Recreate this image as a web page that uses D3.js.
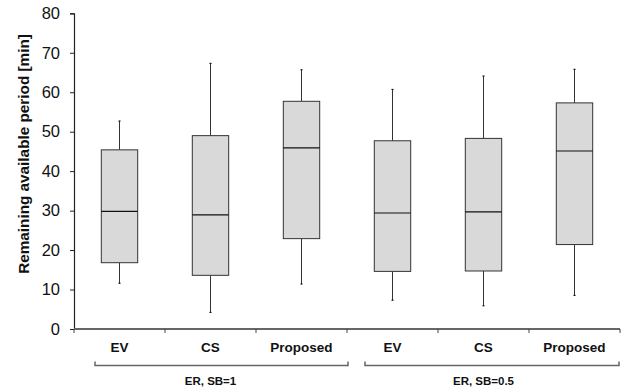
<!DOCTYPE html>
<html>
<head>
<meta charset="utf-8">
<script src="https://cdn.jsdelivr.net/npm/d3@7"></script>
<style>
  body { margin: 0; background: #fff; }
  svg { display: block; font-family: "Liberation Sans", Arial, sans-serif; }
</style>
</head>
<body>
<svg id="chart" width="628" height="390"></svg>
<script>
// values
const categories = ['EV', 'CS', 'Proposed', 'EV', 'CS', 'Proposed'];
const groups = ['ER, SB=1', 'ER, SB=0.5'];
const whiskerLow = [11.6, 4.2, 11.4, 7.3, 5.9, 8.5];
const q1 = [16.8, 13.6, 22.9, 14.6, 14.7, 21.4];
const median = [29.8, 28.9, 45.9, 29.4, 29.7, 45.1];
const q3 = [45.4, 49.0, 57.7, 47.7, 48.3, 57.3];
const whiskerHigh = [52.7, 67.3, 65.7, 60.7, 64.1, 65.8];
const yTicks = [0, 10, 20, 30, 40, 50, 60, 70, 80];
const yTitle = 'Remaining available period [min]';

const svg = d3.select('#chart');
const m = { left: 74, right: 620, top: 13.3, bottom: 329 };

const ids = categories.map((c, i) => i);
const x = d3.scaleBand().domain(ids).range([m.left, m.right]).padding(0);
const y = d3.scaleLinear().domain([0, 80]).range([m.bottom, m.top]);
const step = x.step();
const boxW = step * 0.4;

// y axis
const yAxis = svg.append('g')
    .attr('transform', `translate(${m.left},0)`)
    .call(d3.axisLeft(y).tickValues(yTicks).tickSize(4).tickPadding(10));
yAxis.select('.domain').attr('stroke', '#222').attr('stroke-width', 1.2);
yAxis.selectAll('.tick line').attr('stroke', '#222');
yAxis.selectAll('.tick text')
    .attr('font-family', '"Liberation Sans", Arial, sans-serif')
    .attr('font-size', 16.5)
    .attr('fill', '#111');

svg.append('text')
    .attr('transform', 'translate(29,154) rotate(-90)')
    .attr('text-anchor', 'middle')
    .attr('font-size', 15.3)
    .attr('font-weight', 'bold')
    .attr('fill', '#111')
    .text(yTitle);

// x axis: line, ticks at category boundaries, labels centred
const xg = svg.append('g');
xg.append('line')
    .attr('x1', m.left).attr('x2', m.right)
    .attr('y1', m.bottom).attr('y2', m.bottom)
    .attr('stroke', '#666').attr('stroke-width', 2);
xg.selectAll('line.tk')
    .data(ids.concat([ids.length]))
    .join('line')
    .attr('class', 'tk')
    .attr('x1', d => m.left + d * step).attr('x2', d => m.left + d * step)
    .attr('y1', m.bottom).attr('y2', m.bottom + 4)
    .attr('stroke', '#444').attr('stroke-width', 1);
xg.selectAll('text.cat')
    .data(ids)
    .join('text')
    .attr('class', 'cat')
    .attr('x', d => x(d) + step / 2)
    .attr('y', 351.5)
    .attr('text-anchor', 'middle')
    .attr('font-size', 13.5)
    .attr('font-weight', 'bold')
    .attr('fill', '#111')
    .text(d => categories[d]);

// group brackets
const perGroup = categories.length / groups.length;
const brackets = [
    { x0: x(0) + 21, x1: x(perGroup) + 1 },
    { x0: x(perGroup) + 18, x1: m.right - 1 }
];
const by = 365.5;
brackets.forEach(b => {
    svg.append('path')
        .attr('d', `M${b.x0},${by - 4}V${by}H${b.x1}V${by - 4}`)
        .attr('fill', 'none')
        .attr('stroke', '#666')
        .attr('stroke-width', 1.5);
});
svg.selectAll('text.grp')
    .data(groups)
    .join('text')
    .attr('class', 'grp')
    .attr('x', (d, i) => x(i * perGroup) + step * perGroup / 2)
    .attr('y', 385)
    .attr('text-anchor', 'middle')
    .attr('font-size', 11.5)
    .attr('font-weight', 'bold')
    .attr('fill', '#111')
    .text(d => d);

// boxes
const boxes = svg.append('g').selectAll('g')
    .data(ids)
    .join('g')
    .attr('transform', d => `translate(${x(d) + step / 2},0)`);

boxes.append('line')
    .attr('x1', 0).attr('x2', 0)
    .attr('y1', d => y(whiskerHigh[d])).attr('y2', d => y(q3[d]))
    .attr('stroke', '#333').attr('stroke-width', 1);
boxes.append('line')
    .attr('x1', 0).attr('x2', 0)
    .attr('y1', d => y(q1[d])).attr('y2', d => y(whiskerLow[d]))
    .attr('stroke', '#333').attr('stroke-width', 1);
// tiny caps
boxes.append('line')
    .attr('x1', -1).attr('x2', 1)
    .attr('y1', d => y(whiskerHigh[d])).attr('y2', d => y(whiskerHigh[d]))
    .attr('stroke', '#111').attr('stroke-width', 1.2);
boxes.append('line')
    .attr('x1', -1).attr('x2', 1)
    .attr('y1', d => y(whiskerLow[d])).attr('y2', d => y(whiskerLow[d]))
    .attr('stroke', '#111').attr('stroke-width', 1.2);

boxes.append('rect')
    .attr('x', -boxW / 2)
    .attr('width', boxW)
    .attr('y', d => y(q3[d]))
    .attr('height', d => y(q1[d]) - y(q3[d]))
    .attr('fill', '#d9d9d9')
    .attr('stroke', '#333')
    .attr('stroke-width', 1);
boxes.append('line')
    .attr('x1', -boxW / 2).attr('x2', boxW / 2)
    .attr('y1', d => y(median[d])).attr('y2', d => y(median[d]))
    .attr('stroke', '#111').attr('stroke-width', 1.2);
</script>
</body>
</html>
